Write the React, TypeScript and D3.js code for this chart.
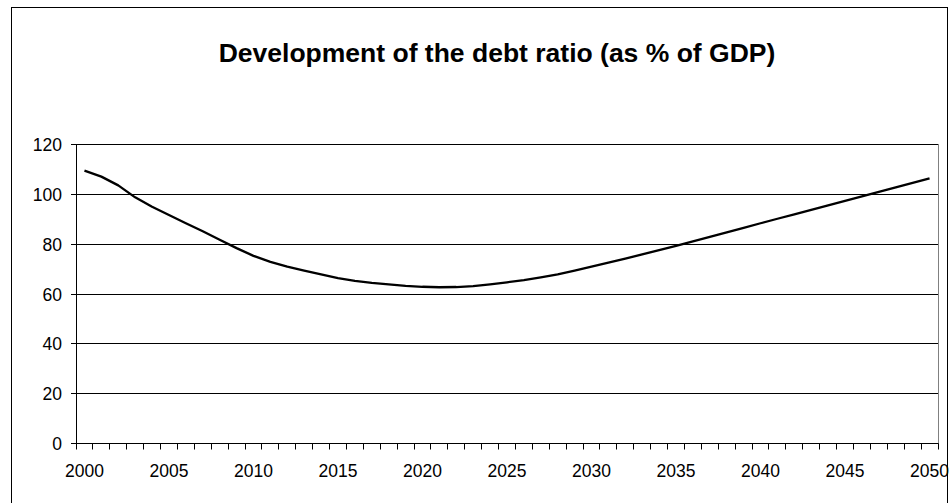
import React from "react";
import * as d3 from "d3";

const years: number[] = [
  2000, 2001, 2002, 2003, 2004, 2005, 2006, 2007, 2008, 2009,
  2010, 2011, 2012, 2013, 2014, 2015, 2016, 2017, 2018, 2019,
  2020, 2021, 2022, 2023, 2024, 2025, 2026, 2027, 2028, 2029,
  2030, 2031, 2032, 2033, 2034, 2035, 2036, 2037, 2038, 2039,
  2040, 2041, 2042, 2043, 2044, 2045, 2046, 2047, 2048, 2049, 2050,
];

const debtRatio: number[] = [
  109.5, 107.1, 103.6, 98.8, 95.0, 91.7, 88.4, 85.2, 81.8, 78.4,
  75.3, 72.9, 71.0, 69.4, 67.9, 66.4, 65.3, 64.5, 63.9, 63.3,
  62.9, 62.7, 62.8, 63.2, 63.9, 64.7, 65.6, 66.7, 67.9, 69.4,
  71.0, 72.6, 74.2, 75.9, 77.6, 79.3, 81.1, 82.9, 84.7, 86.5,
  88.4, 90.2, 92.0, 93.8, 95.6, 97.4, 99.2, 101.0, 102.8, 104.6, 106.4,
];

const yTicks: number[] = [0, 20, 40, 60, 80, 100, 120];
const xLabelYears: number[] = [2000, 2005, 2010, 2015, 2020, 2025, 2030, 2035, 2040, 2045, 2050];

const title = "Development of the debt ratio (as % of GDP)";

const W = 949;
const H = 503;
const plotLeft = 76;
const plotRight = 938;
const plotTop = 144.5;
const plotBottom = 443.5;
const font = "Arial, 'Liberation Sans', Helvetica, sans-serif";

export default function App() {
  const x = d3
    .scaleBand<number>()
    .domain(years)
    .range([plotLeft, plotRight])
    .padding(0);
  const bw = x.bandwidth();
  const cx = (yr: number) => (x(yr) as number) + bw / 2;
  const y = d3.scaleLinear().domain([0, 120]).range([plotBottom, plotTop]);
  const snap = (v: number) => Math.round(v - 0.5) + 0.5;

  const line = d3
    .line<number>()
    .x((_, i) => cx(years[i]))
    .y((d) => y(d))
    .curve(d3.curveLinear);

  const xTickPositions = years.map((yr) => x(yr) as number).concat([plotRight]);

  return (
    <svg
      width={W}
      height={H}
      style={{ position: "absolute", left: 0, top: 0, background: "#fff" }}
      fontFamily={font}
    >
      <rect x={0} y={0} width={W} height={H} fill="#fff" />
      {/* outer chart border */}
      <rect x={11.5} y={7.5} width={936} height={H} fill="none" stroke="#000" strokeWidth={1} />
      <text
        x={497}
        y={62}
        textAnchor="middle"
        fontSize={26.5}
        fontWeight="bold"
        fill="#000"
      >
        {title}
      </text>

      {/* plot area border */}
      <rect
        x={plotLeft + 0.5}
        y={snap(plotTop)}
        width={plotRight - plotLeft}
        height={snap(plotBottom) - snap(plotTop)}
        fill="none"
        stroke="#808080"
        strokeWidth={1}
      />

      {/* gridlines */}
      {yTicks
        .filter((t) => t > 0)
        .map((t) => (
          <line
            key={"g" + t}
            x1={plotLeft}
            x2={plotRight}
            y1={snap(y(t))}
            y2={snap(y(t))}
            stroke="#000"
            strokeWidth={1}
          />
        ))}

      {/* y axis */}
      <line x1={plotLeft + 0.5} x2={plotLeft + 0.5} y1={snap(plotTop)} y2={snap(plotBottom)} stroke="#000" />
      {yTicks.map((t) => (
        <g key={"yt" + t}>
          <line x1={plotLeft - 5} x2={plotLeft} y1={snap(y(t))} y2={snap(y(t))} stroke="#000" />
          <text x={62} y={y(t) + 6.5} textAnchor="end" fontSize={17.5} fill="#000">
            {t}
          </text>
        </g>
      ))}

      {/* x axis */}
      <line x1={plotLeft} x2={plotRight + 0.5} y1={snap(plotBottom)} y2={snap(plotBottom)} stroke="#000" />
      {xTickPositions.map((p, i) => (
        <line
          key={"xt" + i}
          x1={snap(p)}
          x2={snap(p)}
          y1={snap(plotBottom)}
          y2={snap(plotBottom) + 6}
          stroke="#000"
        />
      ))}
      {xLabelYears.map((yr) => (
        <text key={"xl" + yr} x={cx(yr)} y={476.5} textAnchor="middle" fontSize={17.5} fill="#000">
          {yr}
        </text>
      ))}

      {/* data line */}
      <path d={line(debtRatio) || ""} fill="none" stroke="#000" strokeWidth={2.3} strokeLinejoin="round" />
    </svg>
  );
}
